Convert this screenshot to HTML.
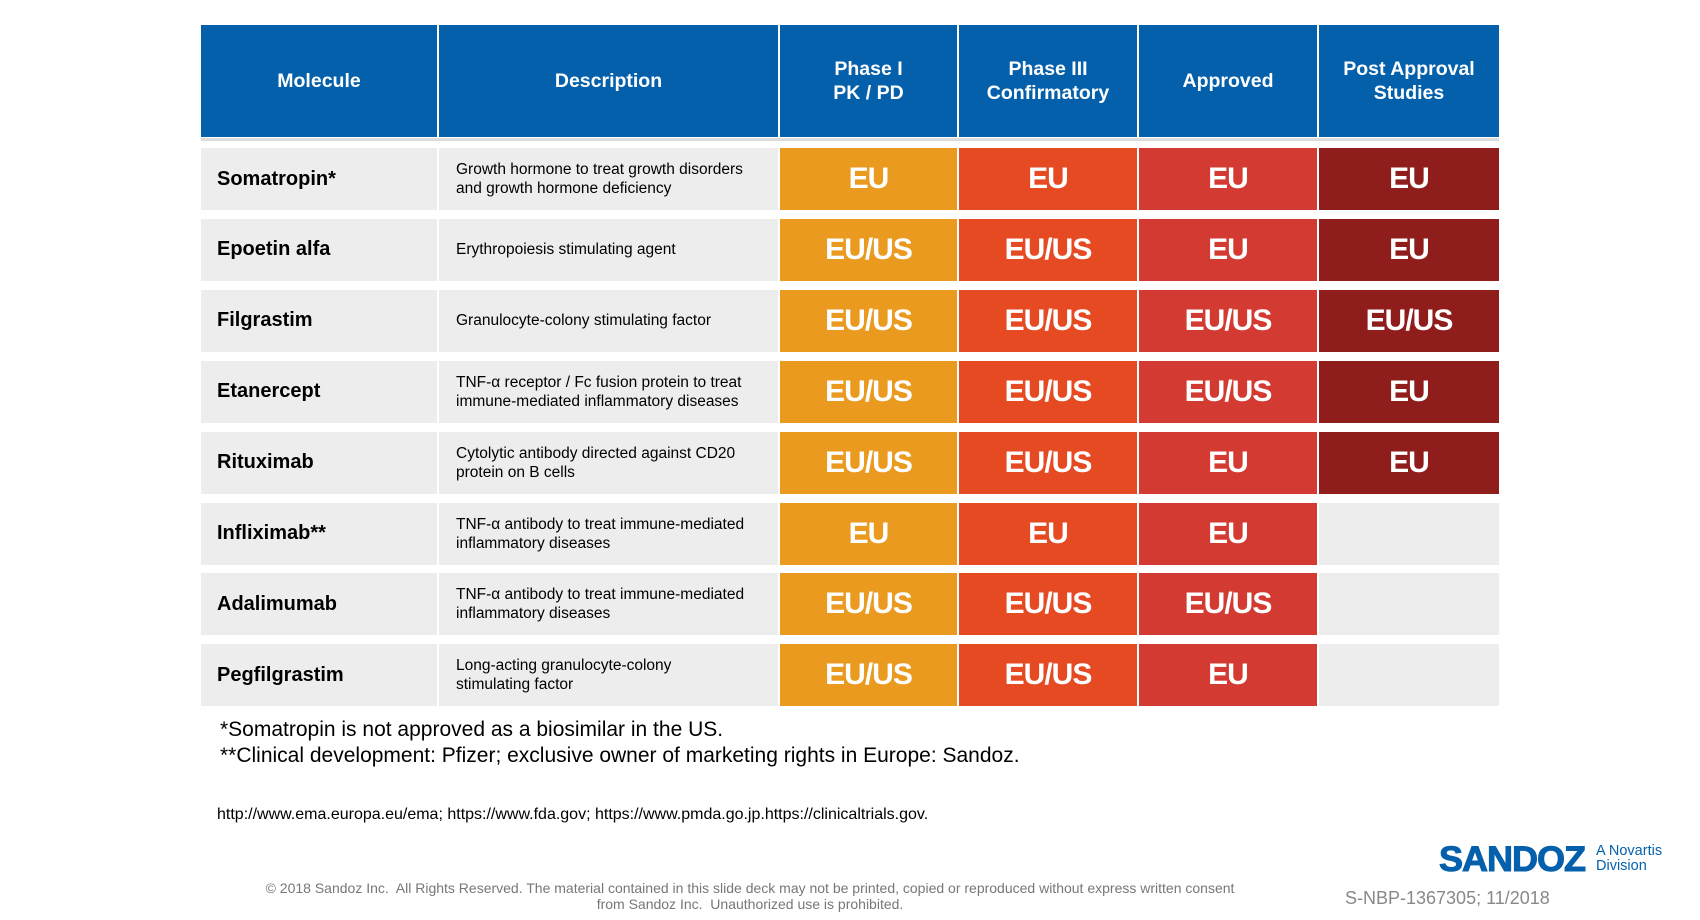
<!DOCTYPE html>
<html><head><meta charset="utf-8"><style>
body{margin:0;width:1700px;height:920px;background:#fff;font-family:"Liberation Sans",Arial,sans-serif;position:relative;overflow:hidden}
.a{position:absolute}
.h{position:absolute;top:25px;height:112px;background:#0560AC;color:#fff;font-weight:bold;font-size:19.5px;display:flex;align-items:center;justify-content:center;text-align:center;line-height:24px}
.c{position:absolute;height:62px;display:flex;align-items:center}
.m{background:#EDEDED;font-weight:bold;font-size:20px;padding-left:16px;box-sizing:border-box}
.d{background:#EDEDED;font-size:15.5px;padding-left:17px;box-sizing:border-box;line-height:19px}
.v{justify-content:center;color:#fff;font-weight:bold;font-size:30px;letter-spacing:-1px}
</style></head><body>
<div id="t"></div>
<div class="a" style="left:220px;top:718px;font-size:21px">*Somatropin is not approved as a biosimilar in the US.</div>
<div class="a" style="left:220px;top:744px;font-size:21px">**Clinical development: Pfizer; exclusive owner of marketing rights in Europe: Sandoz.</div>
<div class="a" style="left:217px;top:806px;font-size:16px">http://www.ema.europa.eu/ema; https://www.fda.gov; https://www.pmda.go.jp.https://clinicaltrials.gov.</div>
<div class="a" style="left:230px;width:1040px;top:880px;font-size:14px;color:#777;text-align:center;line-height:16px">© 2018 Sandoz Inc.&nbsp; All Rights Reserved. The material contained in this slide deck may not be printed, copied or reproduced without express written consent<br>from Sandoz Inc.&nbsp; Unauthorized use is prohibited.</div>
<div class="a" style="left:1439px;top:840px;font-size:35px;font-weight:900;color:#0560AC;letter-spacing:-1px;transform:scaleX(1.03);transform-origin:left;-webkit-text-stroke:1px #0560AC">SANDOZ</div>
<div class="a" style="left:1596px;top:844px;font-size:14.5px;color:#0560AC;line-height:15px">A Novartis<br>Division</div>
<div class="a" style="left:1345px;top:888px;font-size:18px;color:#888">S-NBP-1367305; 11/2018</div>
<script>
const molecules=["Somatropin*","Epoetin alfa","Filgrastim","Etanercept","Rituximab","Infliximab**","Adalimumab","Pegfilgrastim"];
const descriptions=["Growth hormone to treat growth disorders<br>and growth hormone deficiency","Erythropoiesis stimulating agent","Granulocyte-colony stimulating factor","TNF-α receptor / Fc fusion protein to treat<br>immune-mediated inflammatory diseases","Cytolytic antibody directed against CD20<br>protein on B cells","TNF-α antibody to treat immune-mediated<br>inflammatory diseases","TNF-α antibody to treat immune-mediated<br>inflammatory diseases","Long-acting granulocyte-colony<br>stimulating factor"];
const phase1=["EU","EU/US","EU/US","EU/US","EU/US","EU","EU/US","EU/US"];
const phase3=["EU","EU/US","EU/US","EU/US","EU/US","EU","EU/US","EU/US"];
const approved=["EU","EU","EU/US","EU/US","EU","EU","EU/US","EU"];
const postApproval=["EU","EU","EU/US","EU","EU","","",""];
const headers=["Molecule","Description","Phase I<br>PK / PD","Phase III<br>Confirmatory","Approved","Post Approval<br>Studies"];
const colX=[201,439,780,959,1139,1319,1499];
const colors=["#E99A1F","#E64A22","#D33A32","#8E1D1B"];
const t=document.getElementById('t');
headers.forEach((h,i)=>{const e=document.createElement('div');e.className='h';


e.style.left=colX[i]+'px';e.style.width=(colX[i+1]-colX[i]-(i<5?2:0))+'px';e.innerHTML=h;t.appendChild(e);});
const ln=document.createElement('div');ln.className='a';


ln.style.cssText='left:201px;top:138px;width:1298px;height:3px;background:#ddd';t.appendChild(ln);
const series=[phase1,phase3,approved,postApproval];
molecules.forEach((m,r)=>{const y=148+r*70.9;
const cells=[[m,'m'],[descriptions[r],'d']];
cells.forEach((c,i)=>{const e=document.createElement('div');e.className='c '+c[1];


e.style.top=y+'px';e.style.left=colX[i]+'px';e.style.width=(colX[i+1]-colX[i]-2)+'px';e.innerHTML=c[0];t.appendChild(e);});
series.forEach((s,k)=>{const e=document.createElement('div');e.className='c v';


e.style.top=y+'px';e.style.left=colX[k+2]+'px';e.style.width=(colX[k+3]-colX[k+2]-(k<3?2:0))+'px';
e.style.background=s[r]?colors[k]:'#EDEDED';e.textContent=s[r];t.appendChild(e);});
});
</script>
</body></html>
